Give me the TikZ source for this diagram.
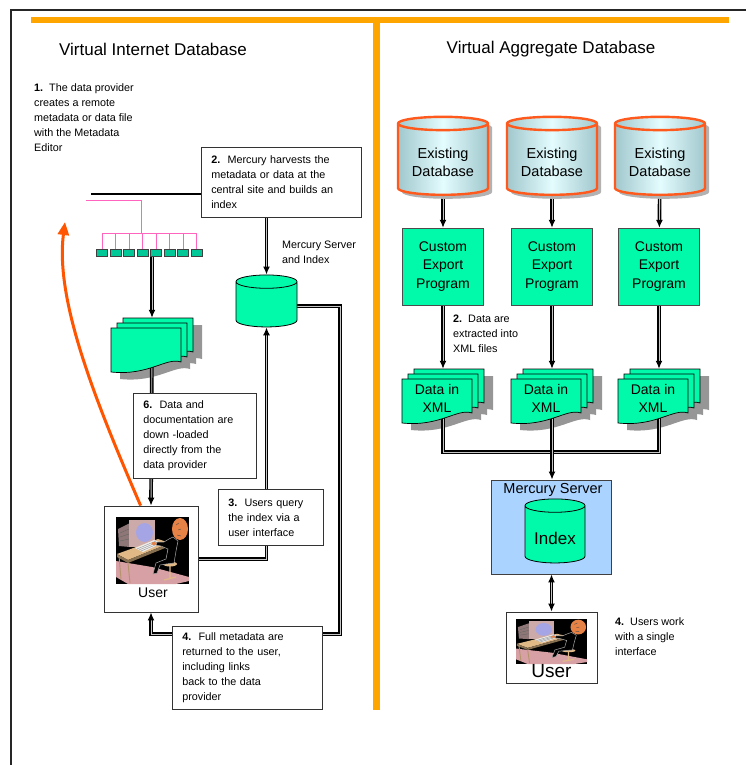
\documentclass[tikz,border=0pt]{standalone}
\usepackage{fontspec}
\setmainfont{Liberation Sans}
\usepackage{tikz}
\usetikzlibrary{arrows.meta,shapes.geometric,shadows,positioning}
\pgfdeclarelayer{background}
\pgfsetlayers{background,main}

\definecolor{frameorange}{RGB}{255,165,0}
\definecolor{dbedge}{RGB}{255,90,30}
\definecolor{dbmid}{RGB}{228,252,254}
\definecolor{dbside}{RGB}{160,200,205}
\definecolor{exportgreen}{RGB}{0,250,170}
\definecolor{serverblue}{RGB}{170,212,255}
\definecolor{wirepink}{RGB}{255,100,190}
\definecolor{portgreen}{RGB}{0,200,150}
\definecolor{uploadred}{RGB}{255,85,0}
\definecolor{docshadow}{RGB}{150,150,150}
\definecolor{floorpink}{RGB}{215,160,165}
\definecolor{deskbeige}{RGB}{225,185,135}
\definecolor{casing}{RGB}{205,170,170}
\definecolor{screenblue}{RGB}{165,165,230}
\definecolor{skin}{RGB}{230,130,70}

\tikzstyle{title} = [font=\fontsize{17}{20}\selectfont]
\tikzstyle{note} = [anchor=north west, align=left, inner sep=0pt,
font=\fontsize{10.8}{15}\selectfont]
\tikzstyle{notebox} = [note, draw=black!80, fill=white, inner xsep=10pt,
line width=0.6pt]
\tikzstyle{drum} = [cylinder, shape border rotate=90, aspect=2,
draw=dbedge, line width=2.4pt, left color=dbside, right color=dbside,
middle color=dbmid, minimum width=90pt, minimum height=78pt,
drop shadow={shadow xshift=4pt, shadow yshift=-4pt, fill=gray!60, opacity=1}]
\tikzstyle{dblabel} = [align=center, yshift=-1pt, font=\fontsize{14.5}{18}\selectfont]
\tikzstyle{serverdrum} = [cylinder, shape border rotate=90, aspect=2,
draw=black, fill=exportgreen, line width=0.8pt]
\tikzstyle{export} = [draw=black!70, fill=exportgreen, rectangle,
minimum width=81pt, minimum height=77pt, align=center,
font=\fontsize{14}{18.5}\selectfont]
\tikzstyle{doctext} = [align=center, font=\fontsize{14}{18}\selectfont]
\tikzstyle{stackspan} = [minimum width=82pt, minimum height=54pt, inner sep=0pt]
\tikzstyle{serverbox} = [draw=black!75, fill=serverblue, rectangle,
minimum width=120pt, minimum height=94pt, line width=0.8pt]
\tikzstyle{userbox} = [draw=black!80, fill=white, rectangle, line width=0.8pt]
\tikzstyle{port} = [draw=black!75, fill=portgreen, rectangle, inner sep=0pt,
minimum width=11pt, minimum height=7pt, line width=0.8pt]
\tikzstyle{wire} = [draw=wirepink, line width=1pt]
\tikzstyle{bus} = [draw=black, line width=2.8pt]
\tikzstyle{pipe} = [draw=black, line width=1.4pt, double=gray!45, double distance=0.9pt]
\tikzstyle{upload} = [draw=uploadred, line width=3pt,
-{Triangle[length=13pt,width=11pt]}]

\tikzset{
  sheet/.pic={\path[pic actions] (0,0) -- (70,0) -- (70,34)
    .. controls (55,29) and (38,48) .. (0,44) -- cycle;},
  docstack/.pic={
    \begin{pgfonlayer}{background}
      \foreach \dx/\dy in {12/-10,6/-5,0/0}
        \pic[fill=docshadow] at (\dx+9,\dy+7) {sheet};
    \end{pgfonlayer}
    \foreach \dx/\dy in {12/-10,6/-5,0/0}
      \pic[draw=black, fill=exportgreen, line width=0.7pt] at (\dx,\dy) {sheet};
  },
  % person at a desk, 73 x 67
  deskuser/.pic={
    \fill[black] (0,0) rectangle (73,67);
    \fill[floorpink] (0,44) -- (36,50) -- (73,60) -- (73,64) -- (60,67)
      -- (12,67) -- (0,60) -- cycle;
    % monitor
    \fill[casing!70!black] (2,12) -- (14,6) -- (14,30) -- (3,29) -- cycle;
    \draw[black!60, line width=0.4pt] (4,16) -- (13,12) (4,20) -- (13,17)
      (4,24) -- (13,22);
    \fill[casing] (13,3) rectangle (39,30);
    \fill[screenblue] (28.5,15.5) ellipse [x radius=8.5, y radius=9.5];
    % desk
    \fill[deskbeige] (1,37) -- (42,22) -- (54,26) -- (12,43) -- cycle;
    \fill[deskbeige!60!black] (12,43) -- (54,26) -- (54,29) -- (12,46) -- cycle;
    \fill[deskbeige!60!black] (1,37) -- (12,43) -- (12,46) -- (1,40) -- cycle;
    \draw[deskbeige!80!black, line width=0.9pt] (3,39) -- (5,62)
      (12,46) -- (14,66) (52,29) -- (52,44);
    % keyboard
    \fill[gray!15] (19,31) -- (38,23) -- (46,26) -- (27,35) -- cycle;
    \draw[black!50, line width=0.3pt] (21,32) -- (40,24) (23,33) -- (42,25)
      (25,34) -- (44,26);
    % chair
    \fill[deskbeige] (54,47) ellipse [x radius=7, y radius=2.5];
    \draw[deskbeige, line width=1.2pt] (54,49) -- (54,61) (48,63) -- (60,60);
    % person
    \filldraw[fill=black, draw=gray!70, line width=0.5pt] (57,20) -- (62,24)
      -- (60,34) -- (58,46) -- (50,47) -- (44,48) -- (41,56) -- (37,57)
      -- (40,46) -- (50,42) -- (52,32) -- (45,29) -- (40,28) -- (41,25)
      -- (48,25) -- (53,22) -- cycle;
    \fill[skin] (64,12) ellipse [x radius=8, y radius=11];
    \draw[black!70, line width=0.4pt] (60,8) -- (63,6) (62,13) -- (65,12)
      (61,18) -- (65,19);
    \fill[skin] (38,26.5) ellipse [x radius=2.5, y radius=1.5];
  },
}

\begin{document}
\begin{tikzpicture}[x=1pt, y=-1pt, >={Latex[length=8pt,width=7pt]}]
\useasboundingbox (0,0) rectangle (745,765);

% frames
\draw[black!85, line width=1.6pt] (11,10) rectangle (780,800);
\draw[frameorange, line width=6pt] (31,20) -- (729,20);
\draw[frameorange, line width=6.5pt] (376.5,17) -- (376.5,710);

\node[title] (titleL) at (153,49) {Virtual Internet Database};
\node[title] (titleR) at (551,49) {Virtual Aggregate Database};

%% internet database
\node[note] (step1) at (34,83) {\textbf{1.}\ \ The data provider\\creates a remote\\metadata or data file\\with the Metadata\\Editor};
\node[notebox, text width=140pt, minimum height=70pt] (harvest) at (201,147)
{\textbf{2.}\ \ Mercury harvests the\\metadata or data at the\\central site and builds an\\index};
\node[note] (mercLabel) at (282,241) {Mercury Server\\and Index};
\node[serverdrum, minimum width=61pt, minimum height=52pt] (mercL) at (266.5,306) {};

% provider network
\coordinate (lan) at (91,194);
\coordinate (feed) at (86,200);
\coordinate (tap) at (141,233);
\foreach \i in {1,...,8}
  \node[port] (port\i) at ({88.5+13.5*\i},252.5) {};
\draw[wire] (feed) -| (tap);
\draw[wire] (port1.north |- tap) -- (port8.north |- tap);
\foreach \i in {1,...,8}
  \draw[wire] (port\i.north |- tap) -- (port\i.north);

\pic at (111,328) {docstack};
\node[stackspan] (stackL) at (152,345) {};

\node[notebox, text width=103pt, minimum height=85pt] (download) at (133,393)
{\textbf{6.}\ \ Data and\\documentation are\\down -loaded\\directly from the\\data provider};
\node[notebox, text width=85pt, minimum height=56pt] (query) at (218,489)
{\textbf{3.}\ \ Users query\\the index via a\\user interface};
\node[notebox, text width=130pt, minimum height=83pt] (results) at (172,626)
{\textbf{4.}\ \ Full metadata are\\returned to the user,\\including links\\back to the data\\provider};
\coordinate (ret) at (340,634);

\node[userbox, minimum width=94pt, minimum height=106pt] (userL) at (151,559) {};
\pic at (116,517) {deskuser};
\node[font=\fontsize{14}{16}\selectfont] (userLtext) at (153,593) {User};

\coordinate (upload) at (65,222);
\draw[upload] (userL.101) .. controls (95,400) and (55,300) .. (upload);

%% aggregate database
\node[drum, label={[dblabel]center:Existing\\Database}] (db1) at (443,161) {};
\node[drum, label={[dblabel]center:Existing\\Database}] (db2) at (552,161) {};
\node[drum, label={[dblabel]center:Existing\\Database}] (db3) at (660,161) {};

\node[export] (exp1) at (443,266.5) {Custom\\Export\\Program};
\node[export] (exp2) at (552,266.5) {Custom\\Export\\Program};
\node[export] (exp3) at (659,266.5) {Custom\\Export\\Program};

\node[note] (step2R) at (453,315) {\textbf{2.}\ \ Data are\\extracted into\\XML files};

\pic at (402,379) {docstack};
\pic at (511,379) {docstack};
\pic at (618,379) {docstack};
\node[stackspan] (stack1) at (443,396) {};
\node[stackspan] (stack2) at (552,396) {};
\node[stackspan] (stack3) at (659,396) {};
\node[doctext] (xml1) at (437,398) {Data in\\XML};
\node[doctext] (xml2) at (546,398) {Data in\\XML};
\node[doctext] (xml3) at (653,398) {Data in\\XML};
\coordinate (merge) at (552,452);

\node[serverbox] (server) at (551,527) {};
\node[font=\fontsize{14.5}{16}\selectfont] (serverTitle) at (553,490) {Mercury Server};
\node[serverdrum, minimum width=60pt, minimum height=64pt,
label={[yshift=-2pt, font=\fontsize{17}{18}\selectfont]center:Index}] (index) at (555,536) {};

\node[userbox, minimum width=91pt, minimum height=71pt] (userR) at (551.5,647.5) {};
\pic[xscale=0.973, yscale=0.672] at (516,619) {deskuser};
\node[font=\fontsize{19}{20}\selectfont] (userRtext) at (551.5,671) {User};
\node[note] (step4R) at (615,617) {\textbf{4.}\ \ Users work\\with a single\\interface};

% connectors
\begin{pgfonlayer}{background}
\draw[bus] (lan) -- (lan -| harvest.west);
\draw[pipe,->] (harvest.south -| mercL.north) -- (mercL.north);
\draw[pipe,->] (stackL.north |- port5.south) -- (stackL.north);
\draw[pipe,->] (stackL.center) -- (userL.north);
\draw[pipe,->] (userL.east) -| (mercL.south);
\draw[pipe,->] (mercL.east) -| (ret) -| (userL.south);

\draw[pipe,->] (db1) -- (exp1);
\draw[pipe,->] (db2) -- (exp2);
\draw[pipe,->] (db3) -- (exp3);
\draw[pipe,->] (exp1) -- (exp1 |- stack1.north);
\draw[pipe,->] (exp2) -- (exp2 |- stack2.north);
\draw[pipe,->] (exp3) -- (exp3 |- stack3.north);
\draw[pipe] (stack1.center) -- (stack1.center |- merge)
  -- (stack3.center |- merge) -- (stack3.center);
\draw[pipe,->] (stack2.center) -- (stack2.center |- server.north);
\draw[pipe,<->] (server.south -| userR.north) -- (userR.north);
\end{pgfonlayer}
\end{tikzpicture}
\end{document}
